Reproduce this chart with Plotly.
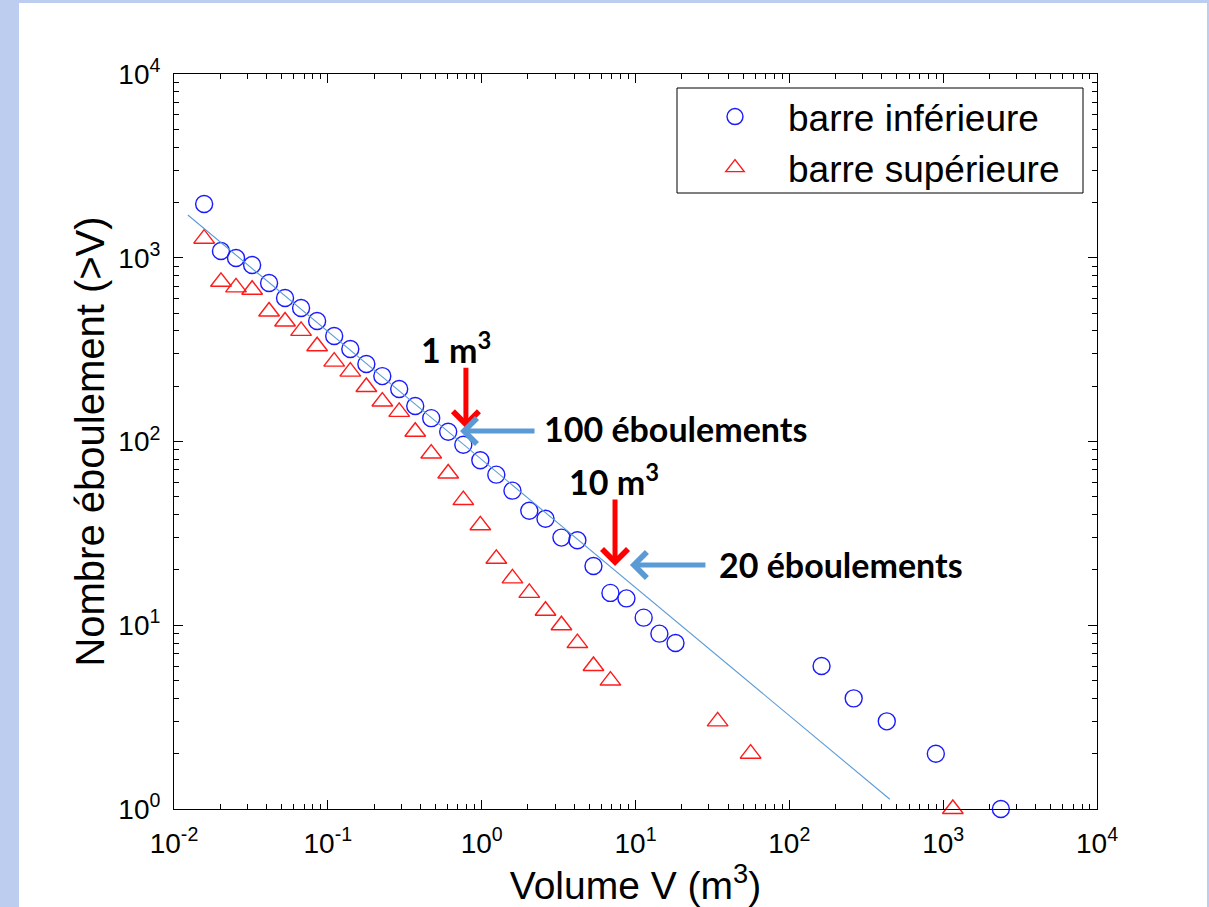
import plotly.graph_objects as go
import math

# ---- data ----
inf_volume = [0.0157, 0.0202, 0.0253, 0.0322, 0.0415, 0.0527, 0.067, 0.0852, 0.110, 0.140,
              0.178, 0.226, 0.291, 0.370, 0.470, 0.606, 0.760, 0.98, 1.245, 1.585,
              2.04, 2.6, 3.30, 4.19, 5.33, 6.87, 8.73, 11.3, 14.3, 18.2,
              162, 262, 430, 896, 2372]
inf_count = [1960, 1088, 997, 913, 729, 604, 533, 453, 375, 319,
             264, 227, 193, 156, 134, 113, 96, 79, 66, 54,
             42, 38, 30, 29, 21, 15, 14, 11, 9, 8,
             6, 4, 3, 2, 1]

sup_volume = [0.0157, 0.0202, 0.0253, 0.0322, 0.0415, 0.0527, 0.067, 0.0852, 0.110, 0.140,
              0.178, 0.226, 0.291, 0.370, 0.470, 0.606, 0.760, 0.98, 1.245, 1.585,
              2.04, 2.6, 3.30, 4.19, 5.33, 6.87, 34.2, 56, 1156]
sup_count = [1270, 740, 690, 670, 510, 450, 400, 330, 272, 240,
             198, 165, 145, 113, 86, 67, 48, 35, 23, 18,
             15, 12, 10, 8, 6, 5, 3, 2, 1]

fit_volume = [0.0123, 450]
fit_count = [1709, 1.13]

x_decades = [-2, -1, 0, 1, 2, 3, 4]
y_decades = [0, 1, 2, 3, 4]

AX_FONT = "Liberation Sans, Arial, sans-serif"
NOTE_FONT = "Lato, Carlito, Calibri, sans-serif"

fig = go.Figure()
fig.add_trace(go.Scatter(
    x=inf_volume, y=inf_count, mode="markers", name="barre inférieure", cliponaxis=False,
    marker=dict(symbol="circle-open", size=17, color="#1a1aff", line=dict(width=1.4, color="#1a1aff")),
    legendgroup="a"))
fig.add_trace(go.Scatter(
    x=sup_volume, y=sup_count, mode="markers", name="barre supérieure", cliponaxis=False,
    marker=dict(symbol="triangle-up-open", size=18, color="#ff1a1a", line=dict(width=1.4, color="#ff1a1a")),
    legendgroup="b"))
fig.add_trace(go.Scatter(
    x=fit_volume, y=fit_count, mode="lines", showlegend=False,
    line=dict(color="#5b9bd5", width=1.1)))

minor_x = [m * 10 ** e for e in range(-2, 4) for m in range(2, 10)]
minor_y = [m * 10 ** e for e in range(0, 4) for m in range(2, 10)]

axis_common = dict(
    type="log", ticks="inside", ticklen=9, tickwidth=1, tickcolor="black",
    showline=True, linecolor="black", linewidth=1, mirror="allticks",
    showgrid=False, zeroline=False,
    tickfont=dict(family=AX_FONT, size=28, color="black"),
)

fig.update_layout(
    width=1209, height=907,
    margin=dict(l=174, r=112, t=74, b=98, autoexpand=False),
    paper_bgcolor="#bccdf0", plot_bgcolor="white",
    showlegend=True,
    xaxis=dict(
        axis_common, range=[-2, 4], tickmode="array",
        tickvals=[10 ** e for e in x_decades],
        ticktext=[f"10<sup>{e}</sup>" for e in x_decades],
        minor=dict(tickmode="array", tickvals=minor_x, ticks="inside", ticklen=5,
                   tickwidth=1, tickcolor="black", showgrid=False),
        ticklabelstandoff=9,
        title=dict(text="Volume V (m<sup>3</sup>)", standoff=12,
                   font=dict(family=AX_FONT, size=39, color="black")),
    ),
    yaxis=dict(
        axis_common, range=[0, 4], tickmode="array",
        tickvals=[10 ** e for e in y_decades],
        ticktext=[f"10<sup>{e}</sup>" for e in y_decades],
        minor=dict(tickmode="array", tickvals=minor_y, ticks="inside", ticklen=5,
                   tickwidth=1, tickcolor="black", showgrid=False),
        ticklabelstandoff=7,
        title=dict(text="Nombre éboulement (>V)", standoff=1,
                   font=dict(family=AX_FONT, size=40, color="black")),
    ),
    legend=dict(
        x=(682 - 174) / 923, y=(809 - 86) / 735, xanchor="left", yanchor="top",
        bgcolor="rgba(0,0,0,0)", borderwidth=0,
        font=dict(family=AX_FONT, size=37, color="black"),
        itemwidth=96, tracegroupgap=0,
    ),
)

# slide background (white page with thin blue border strips)
fig.add_shape(type="rect", xref="paper", yref="paper", layer="below",
              x0=(19 - 174) / 923, x1=(1207 - 174) / 923,
              y0=(809 - 907) / 735, y1=(809 - 3) / 735,
              fillcolor="white", line=dict(width=0))
# legend frame
fig.add_shape(type="rect", xref="paper", yref="paper", layer="above",
              x0=(677 - 174) / 923, x1=(1083 - 174) / 923,
              y0=(809 - 193) / 735, y1=(809 - 88) / 735,
              fillcolor="white", line=dict(width=1, color="black"))

# annotation arrows and labels (data units V, N)
def lx(v):
    return math.log10(v)

arrows = [
    dict(V=0.79, N=118, ax=0, ay=-62, color="#ff0000"),
    dict(V=0.723, N=114, ax=76, ay=0, color="#5b9bd5"),
    dict(V=7.36, N=21.0, ax=0, ay=-68, color="#ff0000"),
    dict(V=9.2, N=21.3, ax=77, ay=0, color="#5b9bd5"),
]
for a in arrows:
    fig.add_annotation(x=lx(a["V"]), y=lx(a["N"]), xref="x", yref="y", text="",
                       showarrow=True, ax=a["ax"], ay=a["ay"], axref="pixel", ayref="pixel",
                       arrowhead=4, arrowsize=1.0, arrowwidth=5, arrowcolor=a["color"])

labels = [
    dict(V=0.681, N=323, text="1 m<sup>3</sup>", xanchor="center"),
    dict(V=2.47, N=118, text="100 éboulements", xanchor="left"),
    dict(V=7.24, N=61.7, text="10 m<sup>3</sup>", xanchor="center"),
    dict(V=33.9, N=21.3, text="20 éboulements", xanchor="left"),
]
for l in labels:
    fig.add_annotation(x=lx(l["V"]), y=lx(l["N"]), xref="x", yref="y", text=f"<b>{l['text']}</b>",
                       showarrow=False, xanchor=l["xanchor"], yanchor="middle",
                       font=dict(family=NOTE_FONT, size=34, color="black"))

fig.write_html("out.html")
